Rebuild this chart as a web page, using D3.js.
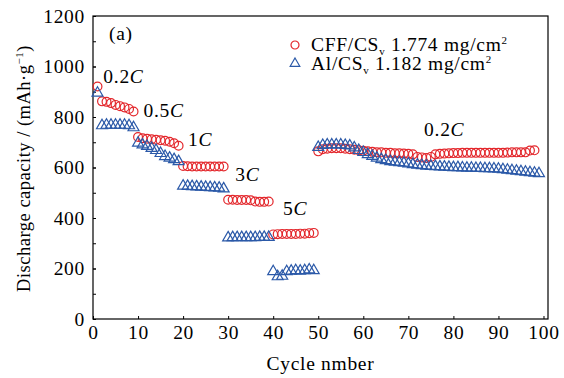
<!DOCTYPE html>
<html>
<head>
<meta charset="utf-8">
<script src="https://cdn.jsdelivr.net/npm/d3@7"></script>
<style>
  body { margin: 0; background: #fff; }
  svg { display: block; }
  svg text { font-family: "Liberation Serif", "DejaVu Serif", serif; letter-spacing: 0.7px; }
</style>
</head>
<body>
<svg></svg>
<script>
// discharge capacity (mAh/g), one value per cycle starting at cycle 1
const cffCapacity = [
  921,
  862, 860, 855, 848, 843, 838, 832, 822,
  721, 716, 714, 712, 710, 708, 706, 702, 696, 686,
  606, 605, 604, 604, 604, 604, 604, 604, 604, 604,
  472, 472, 471, 471, 471, 470, 465, 464, 464, 465,
  335, 336, 337, 337, 337, 337, 338, 338, 340, 341,
  664,
  672, 674, 676, 676, 676, 674, 672,
  670, 668, 666, 664, 662, 660, 660, 658, 658, 656, 656, 655, 654, 652,
  642, 640, 638, 642,
  652, 654, 655, 656, 657, 657, 658, 658, 658, 658, 658, 658, 658, 658, 658, 658, 659, 660, 660, 660, 660,
  667, 668
];
const alCapacity = [
  895,
  766, 768, 768, 768, 768, 768, 766, 758,
  697, 690, 684, 676, 668, 656, 644, 638, 632, 624,
  527, 526, 525, 524, 523, 522, 521, 520, 519, 516,
  322, 323, 323, 323, 323, 323, 323, 324, 324, 324,
  188, 168, 170, 188, 190, 192, 190, 192, 195, 192,
  680,
  688, 690, 690, 690, 690, 688, 686,
  678, 668, 660, 652, 645, 638, 632, 628,
  624, 622, 620, 618, 615, 612, 610, 608, 606, 605,
  604, 603, 602, 601, 600, 600, 599, 598, 598, 597, 597, 596, 596, 595, 594, 592, 590, 588, 586, 584, 582, 580, 578, 576
];
const rateLabels = ["0.2", "0.5", "1", "3", "5", "0.2"];
const rateLabelCycle = [2.3, 11.2, 21.1, 31.6, 42.2, 73.5];
const rateLabelCap = [936, 801, 686, 545, 413, 723];
const xTicks = [0, 10, 20, 30, 40, 50, 60, 70, 80, 90, 100];
const yTicks = [0, 200, 400, 600, 800, 1000, 1200];
const yMinorTicks = d3.range(0, 1201, 100);

const margin = {top: 16, right: 16, bottom: 59, left: 93},
      width = 564 - margin.left - margin.right,
      height = 378 - margin.top - margin.bottom;

const svg = d3.select("svg")
  .attr("width", width + margin.left + margin.right)
  .attr("height", height + margin.top + margin.bottom)
  .append("g")
  .attr("transform", "translate(" + margin.left + "," + margin.top + ")");

const x = d3.scaleLinear().domain([0, 101]).range([0, width]);
const y = d3.scaleLinear().domain([0, 1200]).range([height, 0]);

const red = "#e3262b", blue = "#2b59a8";
const fs = 19.5;

// axes, ticks pointing inward
const xAxis = svg.append("g")
  .attr("transform", "translate(0," + height + ")")
  .call(d3.axisBottom(x).tickValues(xTicks).tickSize(-3).tickPadding(6).tickFormat(d3.format("d")));
const yMinor = svg.append("g")
  .call(d3.axisLeft(y).tickValues(yMinorTicks).tickSize(-3).tickFormat(""));
const yAxis = svg.append("g")
  .call(d3.axisLeft(y).tickValues(yTicks).tickSize(-3).tickPadding(8).tickFormat(d3.format("d")));

[xAxis, yMinor, yAxis].forEach(g => {
  g.attr("font-family", null);
  g.select(".domain").remove();
  g.selectAll("line").attr("stroke", "#000").attr("stroke-width", 1);
  g.selectAll("text")
    .attr("font-size", fs)
    .attr("fill", "#000");
});

// frame
svg.append("rect")
  .attr("width", width)
  .attr("height", height)
  .attr("fill", "none")
  .attr("stroke", "#000")
  .attr("stroke-width", 1.2);

// markers
svg.append("g").selectAll("circle")
  .data(cffCapacity)
  .join("circle")
    .attr("cx", (d, i) => x(i + 1))
    .attr("cy", d => y(d))
    .attr("r", 4.4)
    .attr("fill", "none")
    .attr("stroke", red)
    .attr("stroke-width", 1.2);

const tri = d3.symbol(d3.symbolTriangle, 52);
svg.append("g").selectAll("path")
  .data(alCapacity)
  .join("path")
    .attr("transform", (d, i) => "translate(" + x(i + 1) + "," + y(d) + ")")
    .attr("d", tri)
    .attr("fill", "none")
    .attr("stroke", blue)
    .attr("stroke-width", 1.2);

// rate labels
const rl = svg.append("g").selectAll("text")
  .data(rateLabels)
  .join("text")
    .attr("x", (d, i) => x(rateLabelCycle[i]))
    .attr("y", (d, i) => y(rateLabelCap[i]))
    .attr("font-size", fs)
    .text(d => d);
rl.append("tspan").attr("font-style", "italic").text("C");

svg.append("text")
  .attr("x", 16)
  .attr("y", 24)
  .attr("font-size", fs)
  .text("(a)");

// legend
const legendItems = [
  {name: "CFF/CS", sub: "v", rest: " 1.774 mg/cm", color: red, shape: "circle"},
  {name: "Al/CS", sub: "v", rest: " 1.182 mg/cm", color: blue, shape: "triangle"}
];
const legend = svg.append("g").attr("transform", "translate(202,29)");
legendItems.forEach((d, i) => {
  const row = legend.append("g").attr("transform", "translate(0," + i * 18.5 + ")");
  if (d.shape === "circle") {
    row.append("circle").attr("r", 4).attr("fill", "none")
      .attr("stroke", d.color).attr("stroke-width", 1.2);
  } else {
    row.append("path").attr("d", d3.symbol(d3.symbolTriangle, 40))
      .attr("fill", "none").attr("stroke", d.color).attr("stroke-width", 1.2);
  }
  const t = row.append("text").attr("x", 16).attr("y", 6).attr("font-size", fs);
  t.append("tspan").text(d.name);
  t.append("tspan").attr("font-size", 11).attr("dy", 4).text(d.sub);
  t.append("tspan").attr("dy", -4).text(d.rest);
  t.append("tspan").attr("font-size", 11).attr("dy", -7).text("2");
});

// axis titles
svg.append("text")
  .attr("x", width / 2)
  .attr("y", height + 51)
  .attr("text-anchor", "middle")
  .attr("font-size", fs)
  .text("Cycle nmber");

const yt = svg.append("text")
  .attr("transform", "translate(-63," + (height / 2 + 1) + ") rotate(-90)")
  .attr("text-anchor", "middle")
  .attr("font-size", 18.5)
  .style("letter-spacing", "0.5px");
yt.append("tspan").text("Discharge capacity / (mAh\u00b7g");
yt.append("tspan").attr("font-size", 11).attr("dy", -7).text("\u22121");
yt.append("tspan").attr("dy", 7).text(")");
</script>
</body>
</html>
